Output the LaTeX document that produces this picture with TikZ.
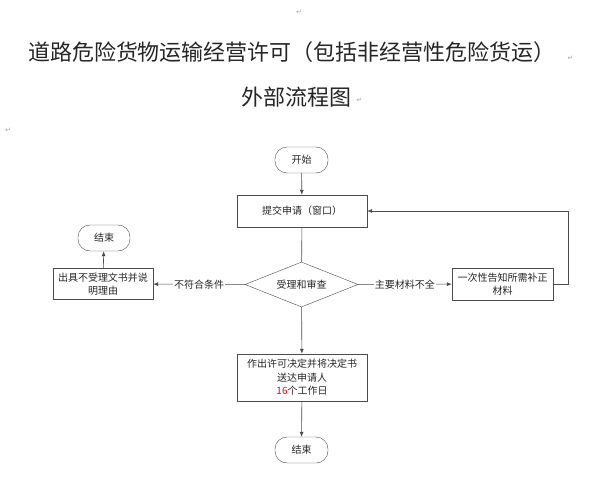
\documentclass[tikz,border=0pt]{standalone}
\usepackage{fontspec}
\setmainfont{Liberation Serif}
\newfontfamily\cjk{Noto Sans CJK SC}
\newfontfamily\symf{DejaVu Sans}
\usetikzlibrary{shapes.geometric,arrows.meta,positioning}
\definecolor{linec}{gray}{0.3}
\definecolor{txtc}{gray}{0.15}
\begin{document}
\begin{tikzpicture}[x=1pt,y=-1pt,
  every node/.style={font=\cjk\fontsize{10}{13.5}\selectfont, text=txtc},
  term/.style={draw=linec, rounded corners=12pt, minimum width=53pt, minimum height=26pt, inner sep=0pt},
  procbox/.style={draw=linec, align=center, inner sep=1pt},
  decis/.style={draw=linec, diamond, aspect=2.55, inner sep=0pt, minimum width=113pt, minimum height=45pt},
  conn/.style={draw=linec, line width=0.6pt, -{Latex[length=5pt,width=4pt]}},
  plainline/.style={draw=linec, line width=0.6pt},
  lbl/.style={fill=white, inner sep=1pt},
  pmark/.style={font=\symf\fontsize{7}{7}\selectfont, text=gray!70},
  ttl/.style={font=\cjk\fontsize{22}{26}\selectfont, text=black!85}
]
\useasboundingbox (0,0) rectangle (595,482);
\fill[white] (0,0) rectangle (595,482);

% paragraph marks
\node[pmark] (pm1) at (299,12) {↵};
\node[pmark] (pm4) at (8,130) {↵};

% title
\node[ttl, inner sep=0pt] (t1) at (292,52) {道路危险货物运输经营许可（包括非经营性危险货运）};
\node[pmark, anchor=west] (pm2) at (564,58) {↵};
\node[ttl, inner sep=0pt] (t2) at (296,97) {外部流程图};
\node[pmark, anchor=west] (pm3) at (353,100) {↵};

% nodes
\node[term] (start) at (301.5,160) {开始};
\node[procbox, minimum width=130pt, minimum height=32pt] (submit) at (302,211) {提交申请（窗口）};
\node[decis] (check) at (301.5,284.5) {受理和审查};
\node[procbox, minimum width=100pt, minimum height=31pt] (reject) at (103,284) {出具不受理文书并说\\明理由};
\node[term, minimum width=52pt] (end1) at (104,238) {结束};
\node[procbox, minimum width=101pt, minimum height=32pt] (notify) at (502.5,284) {一次性告知所需补正\\材料};
\node[procbox, minimum width=130pt, minimum height=47pt] (decide) at (302,377.5) {作出许可决定并将决定书\\送达申请人\\{\color{red}16}个工作日};
\node[term] (end2) at (301.5,450) {结束};

% connectors
\draw[conn] (start) -- (submit);
\draw[plainline] (submit) -- (check);
\draw[conn] (check) -- node[lbl] (lno) {不符合条件} (reject);
\draw[conn] (reject) -- (end1);
\draw[conn] (check) -- node[lbl] (lmat) {主要材料不全} (notify);
\coordinate (cr) at (568,284);
\coordinate (ct) at (568,211);
\draw[conn] (notify.east) -- (cr) -- (ct) -- (submit.east);
\draw[conn] (check) -- (decide);
\draw[conn] (decide) -- (end2);
\end{tikzpicture}
\end{document}
